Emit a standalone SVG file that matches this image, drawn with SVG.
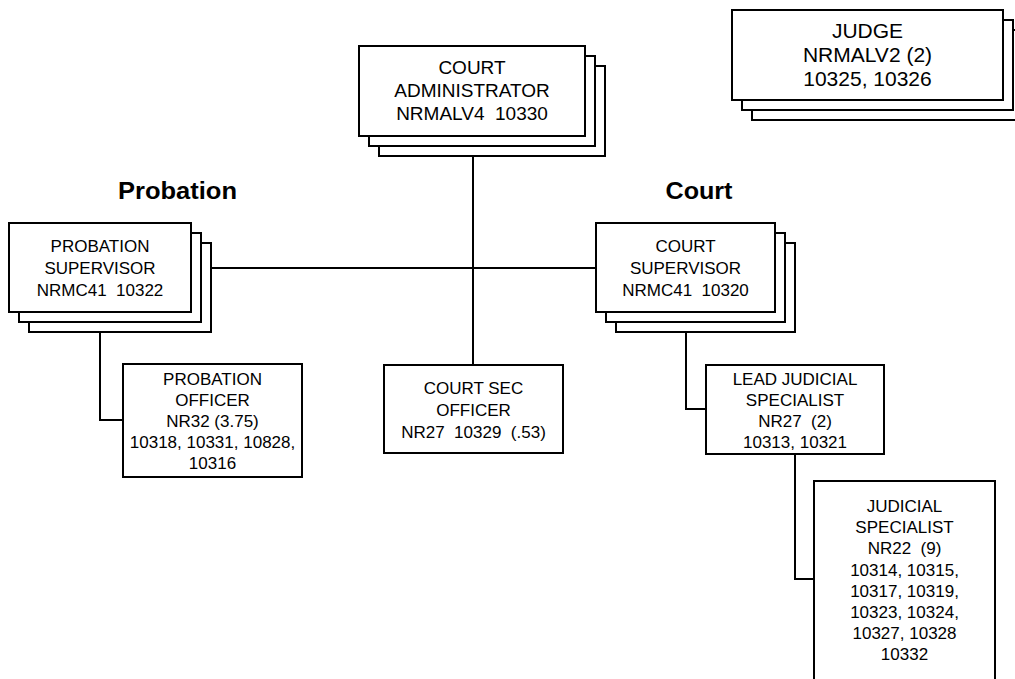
<svg xmlns="http://www.w3.org/2000/svg" width="1015" height="679" viewBox="0 0 1015 679">
  <style>
    .box { fill: #ffffff; stroke: #000000; stroke-width: 2; }
    .wire { fill: none; stroke: #000000; stroke-width: 2; }
    text { font-family: "Liberation Sans", Arial, sans-serif; fill: #000000; text-anchor: middle; }
    .t17 { font-size: 17px; }
    .t19 { font-size: 19px; }
    .t21 { font-size: 21px; }
    .head { font-size: 23px; font-weight: bold; }
  </style>
  <rect x="0" y="0" width="1015" height="679" fill="#ffffff"/>

  <!-- connectors -->
  <g id="connectors">
    <line class="wire" x1="473" y1="156" x2="473" y2="365"/>
    <line class="wire" x1="211" y1="268" x2="596" y2="268"/>
    <polyline class="wire" points="100,332 100,420 123,420"/>
    <polyline class="wire" points="686,332 686,409 706,409"/>
    <polyline class="wire" points="795,454 795,579 814,579"/>
  </g>

  <!-- section headings -->
  <text class="head" x="177.5" y="199" textLength="119" lengthAdjust="spacingAndGlyphs">Probation</text>
  <text class="head" x="699" y="199" textLength="67" lengthAdjust="spacingAndGlyphs">Court</text>

  <g id="court-administrator">
    <rect class="box" x="379" y="66" width="226" height="90"/>
    <rect class="box" x="369" y="56" width="226" height="90"/>
    <rect class="box" x="359" y="46" width="226" height="90"/>
    <text class="t19" x="472" y="74">COURT</text>
    <text class="t19" x="472" y="97">ADMINISTRATOR</text>
    <text class="t19" x="472" y="120" xml:space="preserve">NRMALV4  10330</text>
  </g>

  <g id="judge">
    <rect class="box" x="752" y="30" width="271" height="90"/>
    <rect class="box" x="742" y="20" width="271" height="90"/>
    <rect class="box" x="732" y="10" width="271" height="90"/>
    <text class="t21" x="867.5" y="38">JUDGE</text>
    <text class="t21" x="867.5" y="62">NRMALV2 (2)</text>
    <text class="t21" x="867.5" y="86">10325, 10326</text>
  </g>

  <g id="probation-supervisor">
    <rect class="box" x="29" y="243" width="182" height="89"/>
    <rect class="box" x="19" y="233" width="182" height="89"/>
    <rect class="box" x="9" y="223" width="182" height="89"/>
    <text class="t17" x="100" y="252">PROBATION</text>
    <text class="t17" x="100" y="274">SUPERVISOR</text>
    <text class="t17" x="100" y="296" xml:space="preserve">NRMC41  10322</text>
  </g>

  <g id="court-supervisor">
    <rect class="box" x="616" y="243" width="179" height="89"/>
    <rect class="box" x="606" y="233" width="179" height="89"/>
    <rect class="box" x="596" y="223" width="179" height="89"/>
    <text class="t17" x="685.5" y="252">COURT</text>
    <text class="t17" x="685.5" y="274">SUPERVISOR</text>
    <text class="t17" x="685.5" y="296" xml:space="preserve">NRMC41  10320</text>
  </g>

  <g id="probation-officer">
    <rect class="box" x="123" y="364" width="179" height="113"/>
    <text class="t17" x="212.5" y="385">PROBATION</text>
    <text class="t17" x="212.5" y="406">OFFICER</text>
    <text class="t17" x="212.5" y="427">NR32 (3.75)</text>
    <text class="t17" x="212.5" y="448">10318, 10331, 10828,</text>
    <text class="t17" x="212.5" y="469">10316</text>
  </g>

  <g id="court-sec-officer">
    <rect class="box" x="384" y="365" width="179" height="88"/>
    <text class="t17" x="473.5" y="394">COURT SEC</text>
    <text class="t17" x="473.5" y="415.5">OFFICER</text>
    <text class="t17" x="473.5" y="437.5" xml:space="preserve">NR27  10329  (.53)</text>
  </g>

  <g id="lead-judicial-specialist">
    <rect class="box" x="706" y="365" width="178" height="89"/>
    <text class="t17" x="795" y="385">LEAD JUDICIAL</text>
    <text class="t17" x="795" y="406">SPECIALIST</text>
    <text class="t17" x="795" y="427" xml:space="preserve">NR27  (2)</text>
    <text class="t17" x="795" y="448">10313, 10321</text>
  </g>

  <g id="judicial-specialist">
    <rect class="box" x="814" y="481" width="181" height="220"/>
    <text class="t17" x="904.5" y="512">JUDICIAL</text>
    <text class="t17" x="904.5" y="533.2">SPECIALIST</text>
    <text class="t17" x="904.5" y="554.4" xml:space="preserve">NR22  (9)</text>
    <text class="t17" x="904.5" y="575.6">10314, 10315,</text>
    <text class="t17" x="904.5" y="596.8">10317, 10319,</text>
    <text class="t17" x="904.5" y="618">10323, 10324,</text>
    <text class="t17" x="904.5" y="639.2">10327, 10328</text>
    <text class="t17" x="904.5" y="660.4">10332</text>
  </g>
</svg>
